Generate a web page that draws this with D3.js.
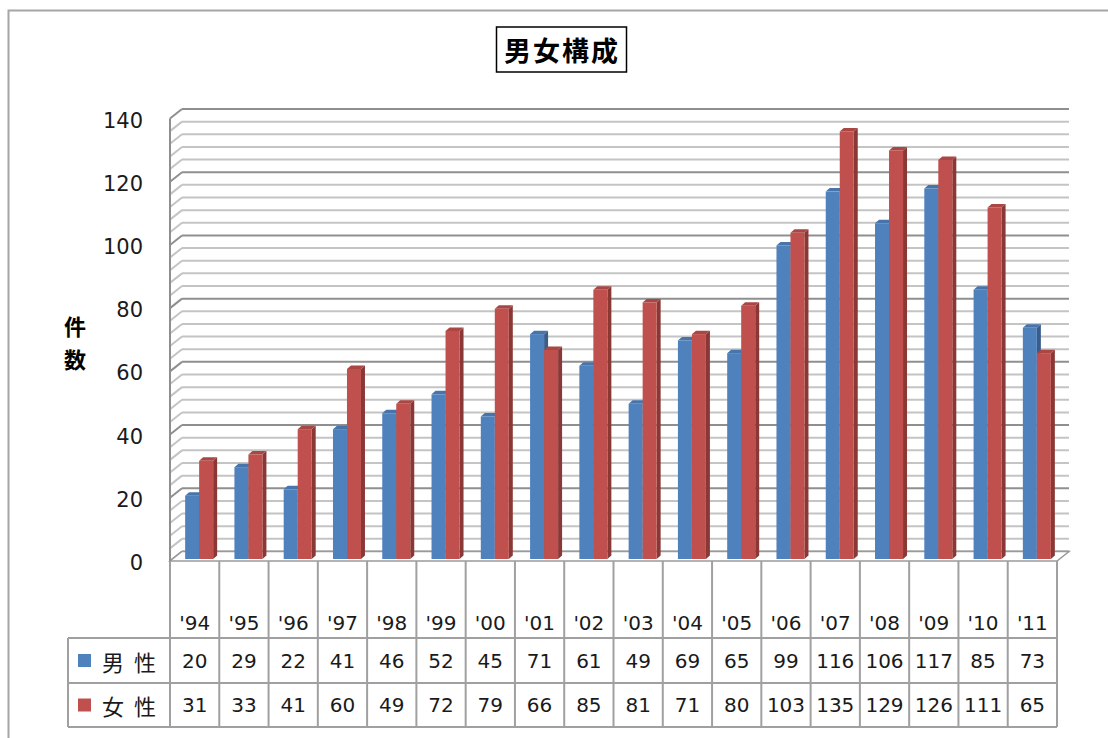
<!DOCTYPE html>
<html>
<head>
<meta charset="utf-8">
<script src="https://cdn.jsdelivr.net/npm/d3@7"></script>
<style>
  html, body { margin: 0; padding: 0; background: #fff; }
  svg { display: block; }
</style>
</head>
<body>
<svg id="chart" width="1108" height="738"></svg>
<script>
// Yearly counts by gender
const years = ["'94","'95","'96","'97","'98","'99","'00","'01","'02","'03","'04","'05","'06","'07","'08","'09","'10","'11"];
const male   = [20, 29, 22, 41, 46, 52, 45, 71, 61, 49, 69, 65, 99, 116, 106, 117, 85, 73];
const female = [31, 33, 41, 60, 49, 72, 79, 66, 85, 81, 71, 80, 103, 135, 129, 126, 111, 65];
const seriesNames = ["男 性", "女 性"];
const yTicks = [0, 20, 40, 60, 80, 100, 120, 140];
const title = "男女構成";
const axisTitle = ["件", "数"];

const series = [
  { name: seriesNames[0], values: male,   face: "#4f81bd", top: "#4674ab", side: "#385d8a" },
  { name: seriesNames[1], values: female, face: "#c0504d", top: "#aa4643", side: "#8a3836" }
];

const svg = d3.select("#chart");
const numFont = "'DejaVu Sans', Verdana, sans-serif";
const cjkFont = "'Noto Sans CJK JP', 'Noto Sans CJK SC', sans-serif";

// chart frame
svg.append("rect").attr("x", 8.5).attr("y", 10.5).attr("width", 1120).attr("height", 760)
  .attr("fill", "#fff").attr("stroke", "#a6a6a6").attr("stroke-width", 2);

// scales
const x = d3.scaleBand().domain(years).range([170, 1057]).paddingInner(0).paddingOuter(0);
const yFront = d3.scaleLinear().domain([0, 140]).range([561, 118.5]);
const yBar = d3.scaleLinear().domain([0, 140]).range([559, 115.6]);
const DX = 12, DY = 9.5;          // wall depth offset
const bDX = 4, bDY = 3.5;         // bar depth offset
const barW = 14;
const barShift = 4.5;

const xL = x.range()[0], xR = x.range()[1];

// gridlines: side wall diagonals + back wall horizontals
const gridVals = d3.range(0, 141, 4);
const grid = svg.append("g");
gridVals.forEach(v => {
  const major = v % 20 === 0;
  const col = major ? "#8f8f8f" : "#c4c4c4";
  const yf = yFront(v), yb = yf - DY;
  grid.append("line").attr("x1", xL).attr("y1", yf).attr("x2", xL + DX).attr("y2", yb)
    .attr("stroke", col).attr("stroke-width", 2);
  grid.append("line").attr("x1", xL + DX).attr("y1", yb).attr("x2", xR + DX).attr("y2", yb)
    .attr("stroke", col).attr("stroke-width", 2);
});

// floor
const y0 = yFront(0);
svg.append("path")
  .attr("d", `M${xL},${y0} L${xL + DX},${y0 - DY} L${xR + DX},${y0 - DY} L${xR},${y0} Z`)
  .attr("fill", "#fff").attr("stroke", "#9a9a9a").attr("stroke-width", 1.5);

// side wall front edge (value axis line)
svg.append("line").attr("x1", xL).attr("y1", yFront(140)).attr("x2", xL).attr("y2", y0)
  .attr("stroke", "#8f8f8f").attr("stroke-width", 2);

// value axis labels
svg.append("g").selectAll("text").data(yTicks).join("text")
  .attr("x", 143).attr("y", d => yFront(d) + 2)
  .attr("text-anchor", "end").attr("dominant-baseline", "central")
  .attr("font-family", numFont).attr("font-size", 21).attr("fill", "#1a1a1a")
  .text(d => d);

// bars (3D columns)
const bars = svg.append("g");
years.forEach((yr, i) => {
  const cx = x(yr) + x.bandwidth() / 2 + barShift;
  series.forEach((s, k) => {
    const v = s.values[i];
    const x0 = cx - barW + k * barW, x1 = x0 + barW;
    const yt = yBar(v), yb = yBar(0);
    const g = bars.append("g");
    // side face
    g.append("path")
      .attr("d", `M${x1},${yt} L${x1 + bDX},${yt - bDY} L${x1 + bDX},${yb - bDY} L${x1},${yb} Z`)
      .attr("fill", s.side);
    // top face
    g.append("path")
      .attr("d", `M${x0},${yt} L${x0 + bDX},${yt - bDY} L${x1 + bDX},${yt - bDY} L${x1},${yt} Z`)
      .attr("fill", s.top);
    // front face
    g.append("rect").attr("x", x0).attr("y", yt).attr("width", barW).attr("height", yb - yt)
      .attr("fill", s.face);
  });
});

// data table
const tbl = svg.append("g");
const rowTop = y0, row1 = 638, row2 = 683, row3 = 727;
const legL = 68;
const lineCol = "#a0a0a0";
// horizontal rules
[row1, row2, row3].forEach(yy => {
  tbl.append("line").attr("x1", legL).attr("x2", xR).attr("y1", yy).attr("y2", yy)
    .attr("stroke", lineCol).attr("stroke-width", 2);
});
// vertical rules
const edges = years.map(d => x(d)).concat([xR]);
edges.forEach(xx => {
  tbl.append("line").attr("x1", xx).attr("x2", xx).attr("y1", rowTop).attr("y2", row3)
    .attr("stroke", lineCol).attr("stroke-width", 2);
});
tbl.append("line").attr("x1", legL).attr("x2", legL).attr("y1", row1).attr("y2", row3)
  .attr("stroke", lineCol).attr("stroke-width", 2);

// category labels
tbl.selectAll("text.cat").data(years).join("text").attr("class", "cat")
  .attr("x", d => x(d) + x.bandwidth() / 2).attr("y", 623)
  .attr("text-anchor", "middle").attr("dominant-baseline", "central")
  .attr("font-family", numFont).attr("font-size", 20).attr("fill", "#1a1a1a")
  .text(d => d);

// value rows and legend keys
const rowsY = [(row1 + row2) / 2, (row2 + row3) / 2];
series.forEach((s, k) => {
  const cy = rowsY[k];
  tbl.append("rect").attr("x", 78).attr("y", cy - 6.5).attr("width", 13).attr("height", 13)
    .attr("fill", s.face);
  tbl.append("text").attr("x", 102).attr("y", cy)
    .attr("dominant-baseline", "central")
    .attr("font-family", cjkFont).attr("font-size", 22).attr("fill", "#1a1a1a")
    .attr("letter-spacing", 2.5)
    .attr("xml:space", "preserve")
    .text(s.name);
  tbl.append("g").selectAll("text").data(s.values).join("text")
    .attr("x", (d, i) => x(years[i]) + x.bandwidth() / 2).attr("y", cy)
    .attr("text-anchor", "middle").attr("dominant-baseline", "central")
    .attr("font-family", numFont).attr("font-size", 20).attr("fill", "#1a1a1a")
    .text(d => d);
});

// chart title with box
svg.append("rect").attr("x", 496.5).attr("y", 27).attr("width", 130).attr("height", 45)
  .attr("fill", "#fff").attr("stroke", "#000").attr("stroke-width", 1.5);
svg.append("text").attr("x", 562).attr("y", 49.5)
  .attr("text-anchor", "middle").attr("dominant-baseline", "central")
  .attr("font-family", cjkFont).attr("font-weight", "bold").attr("font-size", 27)
  .attr("letter-spacing", 2).attr("fill", "#000")
  .text(title);

// value axis title, one character per line
const axTitle = svg.append("text")
  .attr("text-anchor", "middle")
  .attr("font-family", cjkFont).attr("font-weight", "bold").attr("font-size", 22)
  .attr("fill", "#000");
axTitle.selectAll("tspan").data(axisTitle).join("tspan")
  .attr("x", 75)
  .attr("y", (d, i) => 335 + i * 33)
  .text(d => d);
</script>
</body>
</html>
